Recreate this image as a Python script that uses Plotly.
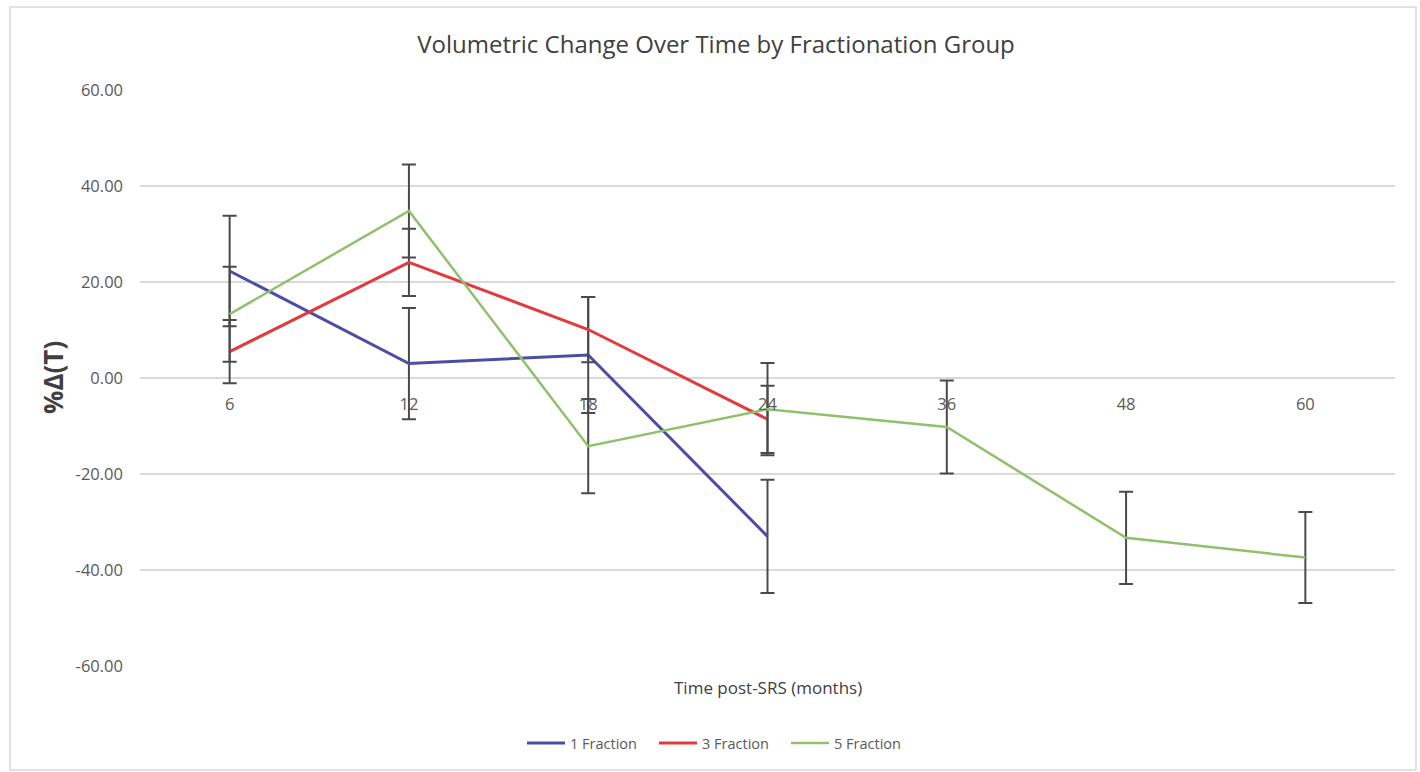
import plotly.graph_objects as go

months = ["6", "12", "18", "24", "36", "48", "60"]

frac1_vals = [22.3, 3.0, 4.8, -33.0]
frac1_err = [11.5, 11.6, 12.1, 11.8]

frac3_vals = [5.5, 24.1, 10.1, -8.6]
frac3_err = [6.6, 7.0, 6.8, 7.0]

frac5_vals = [13.3, 34.8, -14.2, -6.5, -10.2, -33.3, -37.4]
frac5_err = [9.9, 9.7, 9.8, 9.6, 9.7, 9.6, 9.5]

ytick_vals = [-60, -40, -20, 0, 20, 40, 60]
ytick_text = ["-60.00", "-40.00", "-20.00", "0.00", "20.00", "40.00", "60.00"]

series = [
    ("1 Fraction", frac1_vals, frac1_err, "#4b4ea3", 3),
    ("3 Fraction", frac3_vals, frac3_err, "#e23b3f", 3),
    ("5 Fraction", frac5_vals, frac5_err, "#8fc16c", 2.5),
]

fig = go.Figure()
for name, vals, errs, color, w in series:
    fig.add_trace(go.Scatter(
        x=months[:len(vals)], y=vals, name=name, mode="lines",
        line=dict(color=color, width=w),
        error_y=dict(type="data", array=errs, visible=True,
                     color="#4a4a4a", thickness=2, width=7),
    ))

FONT = "Open Sans, Liberation Sans, sans-serif"

fig.update_layout(
    width=1420, height=772,
    margin=dict(l=140, r=25, t=90, b=106, autoexpand=False),
    paper_bgcolor="white", plot_bgcolor="white",
    font=dict(family=FONT, color="#595959", size=15),
    title=dict(text="Volumetric Change Over Time by Fractionation Group",
               x=(716 - 140) / 1255, xref="paper", xanchor="center",
               y=1 - 45 / 772, yref="container", yanchor="middle",
               font=dict(size=24, color="#404040", family=FONT)),
    showlegend=True,
    legend=dict(orientation="h", x=(720 - 140) / 1255, xanchor="center", xref="paper",
                y=-0.134, yanchor="middle", font=dict(size=14.5, color="#595959"),
                itemwidth=38, entrywidth=79, tracegroupgap=0,
                bgcolor="rgba(0,0,0,0)"),
    xaxis=dict(type="category", categoryorder="array", categoryarray=months,
               range=[-0.5, 6.5], anchor="free", position=0.5,
               showgrid=False, showline=False, zeroline=False,
               ticks="outside", ticklen=11, tickcolor="rgba(0,0,0,0)",
               tickfont=dict(size=16.5, color="#595959")),
    yaxis=dict(range=[-60, 60], tickvals=ytick_vals, ticktext=ytick_text,
               showgrid=True, gridcolor="#d9d9d9", gridwidth=1.5,
               zeroline=False, showline=False, ticks="",
               ticklabelstandoff=16, tickfont=dict(size=16.5, color="#595959")),
    annotations=[
        dict(text="Time post-SRS (months)", xref="paper", yref="paper",
             x=0.5, y=-0.038, showarrow=False, yanchor="middle",
             font=dict(size=17, color="#404040")),
        dict(text="<b>%Δ(T)</b>", xref="paper", yref="paper", x=(53 - 140) / 1255,
             y=0.5, textangle=-90, showarrow=False, xanchor="center",
             yanchor="middle", font=dict(size=26, color="#404040")),
    ],
    shapes=[
        dict(type="rect", xref="paper", yref="paper",
             x0=(10 - 140) / 1255, x1=(1416 - 140) / 1255,
             y0=-(770 - 666) / 576, y1=(666 - 7) / 576,
             line=dict(color="#d9d9d9", width=1.5), fillcolor="rgba(0,0,0,0)",
             layer="below"),
    ],
)

fig.write_html("out.html", post_script="document.body.style.margin='0';",
               config={"displayModeBar": False})
